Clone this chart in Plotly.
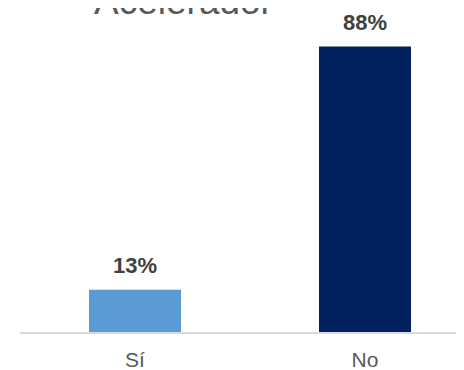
import plotly.graph_objects as go

categories = ["Sí", "No"]
values = [13, 88]
value_labels = ["13%", "88%"]
bar_colors = ["#5B9BD5", "#002060"]
title_text = "Acelerador"

fig = go.Figure()
fig.add_trace(go.Bar(
    x=categories, y=values, width=0.4,
    marker=dict(color=bar_colors, line=dict(width=0)),
    hoverinfo="skip",
))

for c, v, t in zip(categories, values, value_labels):
    fig.add_annotation(x=c, y=v, text=f"<b>{t}</b>", showarrow=False,
                       xref="x", yref="y", yanchor="bottom", yshift=10,
                       font=dict(family="Arial, Liberation Sans", size=22, color="#404040"))

fig.add_annotation(x=0.3554, y=1.0204, xref="paper", yref="paper",
                   text=title_text, showarrow=False, xanchor="center", yanchor="middle",
                   font=dict(family="Arial, Liberation Sans", size=37, color="#595959"))

fig.update_layout(
    width=480, height=370,
    margin=dict(l=12, r=8, t=0, b=46, pad=0, autoexpand=False),
    paper_bgcolor="white", plot_bgcolor="white",
    showlegend=False,
    xaxis=dict(range=[-0.5, 1.5], showline=True, linecolor="#d9d9d9", linewidth=1.5,
               showgrid=False, zeroline=False, ticks="",
               tickfont=dict(family="Arial, Liberation Sans", size=21, color="#595959"),
               ticklabelstandoff=8),
    yaxis=dict(range=[0, 99.88], visible=False, showgrid=False, zeroline=False),
)

fig.write_html("out.html")
